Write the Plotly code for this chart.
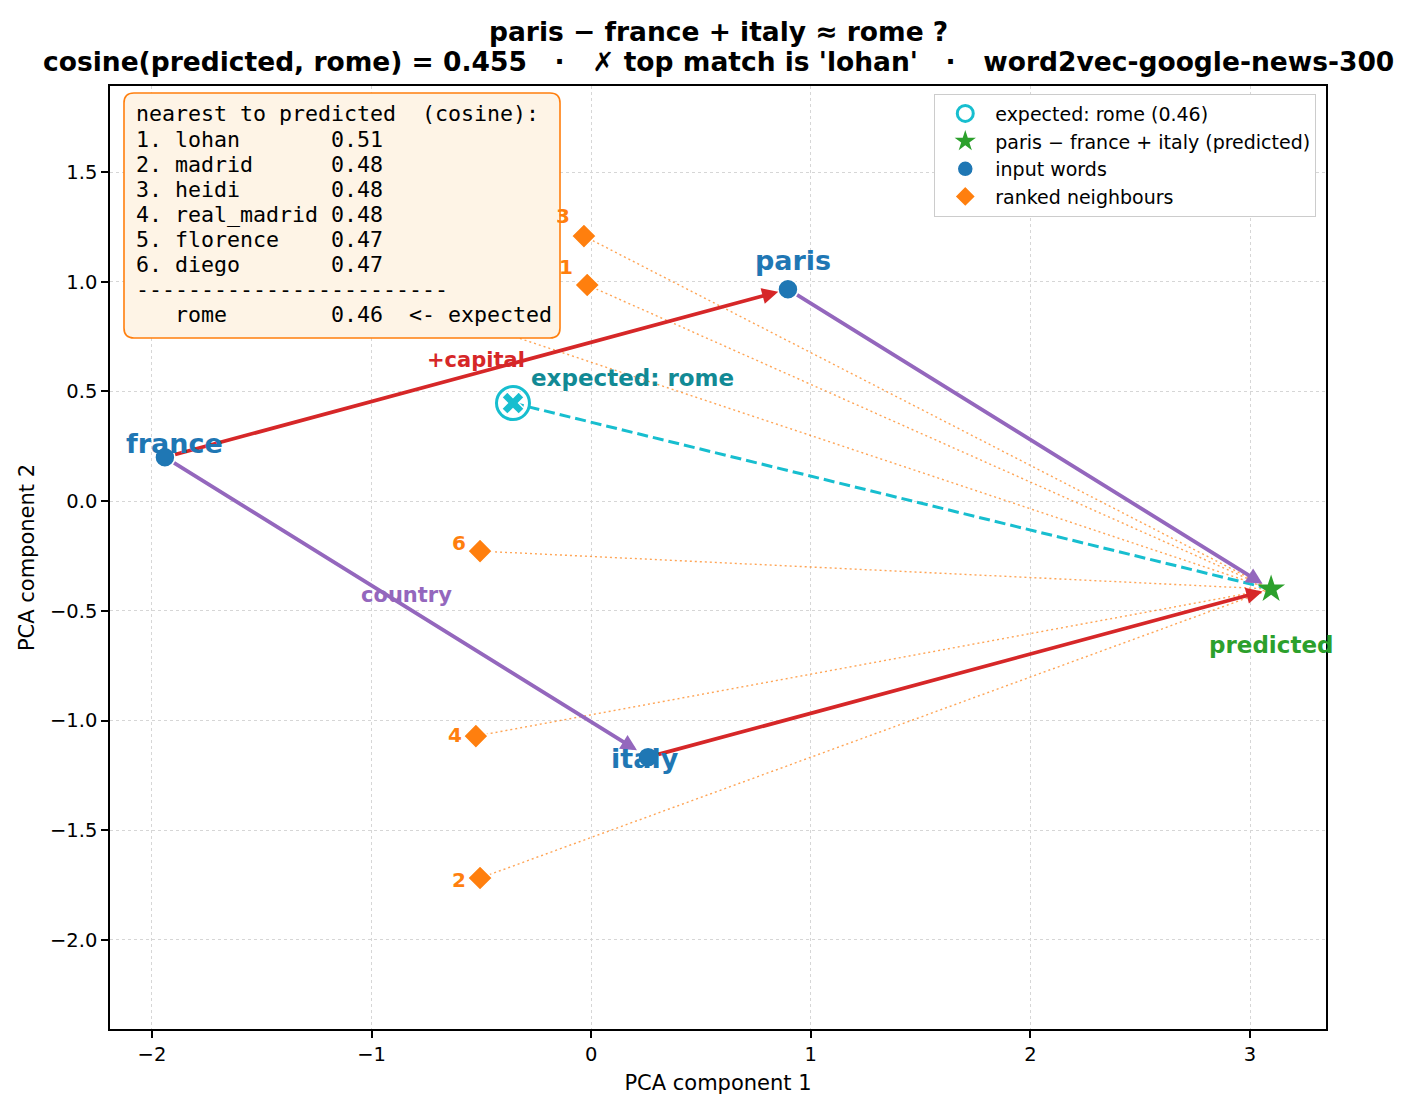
import plotly.graph_objects as go

# ---------------- data ----------------
input_words = ["paris", "france", "italy"]
input_x = [0.896, -1.941, 0.259]
input_y = [0.966, 0.200, -1.167]

pred_label = "paris − france + italy (predicted)"
pred_x = [3.096]
pred_y = [-0.401]

expected_word = "rome"
expected_x = [-0.356]
expected_y = [0.447]
expected_cos = 0.455

neigh_words = ["lohan", "madrid", "heidi", "real_madrid", "florence", "diego"]
neigh_scores = [0.51, 0.48, 0.48, 0.48, 0.47, 0.47]
neigh_x = [-0.018, -0.506, -0.033, -0.525, -0.80, -0.506]
neigh_y = [0.985, -1.718, 1.208, -1.071, 0.90, -0.228]

x_ticks = [-2, -1, 0, 1, 2, 3]
y_ticks = [-2.0, -1.5, -1.0, -0.5, 0.0, 0.5, 1.0, 1.5]

# ---------------- style ----------------
BLUE = "#1f77b4"
ORANGE = "#ff7f0e"
GREEN = "#2ca02c"
RED = "#d62728"
PURPLE = "#9467bd"
CYAN = "#17becf"
TEAL = "#128a95"
BOXFILL = "#fef4e6"
FONT = "DejaVu Sans"
MONO = "DejaVu Sans Mono"

W, H = 1415, 1110
ML, MR, MT, MB = 110, 89, 86, 81
PW, PH = W - ML - MR, H - MT - MB


def px2paper(px, py):
    return (px - ML) / PW, 1 - (py - MT) / PH


def fmt(v, d=0):
    s = f"{abs(v):.{d}f}"
    return ("−" + s) if v < 0 else s


fig = go.Figure()

# dotted lines neighbours -> predicted
for nx, ny in zip(neigh_x, neigh_y):
    fig.add_trace(go.Scatter(x=[nx, pred_x[0]], y=[ny, pred_y[0]], mode="lines",
                             line=dict(color=ORANGE, width=1.4, dash="2px,3px"), opacity=0.7,
                             showlegend=False, hoverinfo="skip"))

# dashed expected -> predicted
fig.add_trace(go.Scatter(x=[expected_x[0], pred_x[0]], y=[expected_y[0], pred_y[0]], mode="lines",
                         line=dict(color=CYAN, width=3, dash="11px,5px"),
                         showlegend=False, hoverinfo="skip"))

# expected ring
fig.add_trace(go.Scatter(x=expected_x, y=expected_y, mode="markers",
                         marker=dict(symbol="circle-open", size=33, color=CYAN, line=dict(width=3, color=CYAN)),
                         name=f"expected: {expected_word} ({expected_cos:.2f})", legendrank=1))
fig.add_trace(go.Scatter(x=expected_x, y=expected_y, mode="markers",
                         marker=dict(symbol="x", size=20, color=CYAN, line=dict(width=1.5, color="white")),
                         showlegend=False, hoverinfo="skip"))

# predicted star
fig.add_trace(go.Scatter(x=pred_x, y=pred_y, mode="markers",
                         marker=dict(symbol="star", size=21, color=GREEN, line=dict(width=0)),
                         name=pred_label, legendrank=2))

# input words
fig.add_trace(go.Scatter(x=input_x, y=input_y, mode="markers",
                         marker=dict(symbol="circle", size=20, color=BLUE, line=dict(width=1.5, color="white")),
                         name="input words", legendrank=3))

# neighbours
fig.add_trace(go.Scatter(x=neigh_x, y=neigh_y, mode="markers",
                         marker=dict(symbol="diamond", size=19, color=ORANGE, line=dict(width=1.5, color="white")),
                         name="ranked neighbours", legendrank=4))

ann = []


def arrow(i0x, i0y, i1x, i1y, color, standoff):
    ann.append(dict(x=i1x, y=i1y, ax=i0x, ay=i0y, xref="x", yref="y", axref="x", ayref="y",
                    showarrow=True, arrowhead=2, arrowsize=0.85, arrowwidth=3.8, arrowcolor=color,
                    standoff=standoff, startstandoff=9, text=""))


arrow(input_x[1], input_y[1], input_x[0], input_y[0], RED, 10)        # france -> paris
arrow(input_x[2], input_y[2], pred_x[0], pred_y[0], RED, 9)           # italy -> predicted
arrow(input_x[1], input_y[1], input_x[2], input_y[2], PURPLE, 13)     # france -> italy
arrow(input_x[0], input_y[0], pred_x[0], pred_y[0], PURPLE, 10)       # paris -> predicted

# arrow labels at midpoints
ann.append(dict(x=(input_x[1] + input_x[0]) / 2, y=(input_y[1] + input_y[0]) / 2, xref="x", yref="y",
                text="<b>+capital</b>", showarrow=False, yshift=13,
                font=dict(family=FONT, size=21, color=RED)))
ann.append(dict(x=(input_x[1] + input_x[2]) / 2, y=(input_y[1] + input_y[2]) / 2, xref="x", yref="y",
                text="<b>country</b>", showarrow=False, yshift=12,
                font=dict(family=FONT, size=21, color=PURPLE)))

# word labels
word_shift = [(5, 29), (10, 14), (-3, -1)]
for w, x, y, (dx, dy) in zip(input_words, input_x, input_y, word_shift):
    ann.append(dict(x=x, y=y, xref="x", yref="y", text=f"<b>{w}</b>", showarrow=False,
                    xshift=dx, yshift=dy, font=dict(family=FONT, size=27, color=BLUE)))

ann.append(dict(x=expected_x[0], y=expected_y[0], xref="x", yref="y", text=f"<b>expected: {expected_word}</b>",
                showarrow=False, xanchor="left", xshift=16, yshift=25,
                font=dict(family=FONT, size=23, color=TEAL)))
ann.append(dict(x=pred_x[0], y=pred_y[0], xref="x", yref="y", text="<b>predicted</b>",
                showarrow=False, yshift=-56, font=dict(family=FONT, size=23, color=GREEN)))

# rank labels
rank_yshift = [18, -2, 20, 1, 10, 8]
for i, (x, y) in enumerate(zip(neigh_x, neigh_y)):
    ann.append(dict(x=x, y=y, xref="x", yref="y", text=f"<b>{i + 1}</b>", showarrow=False,
                    xanchor="right", xshift=-12, yshift=rank_yshift[i],
                    font=dict(family=FONT, size=20, color=ORANGE)))

# nearest text box (rounded rectangle + opaque cover + one annotation per line)
bx0, by0, bx1, by1, rad = 124, 93, 560, 338, 10


def P(px, py):
    x, y = px2paper(px, py)
    return f"{x:.5f},{y:.5f}"


path = (f"M {P(bx0 + rad, by0)} L {P(bx1 - rad, by0)} Q {P(bx1, by0)} {P(bx1, by0 + rad)} "
        f"L {P(bx1, by1 - rad)} Q {P(bx1, by1)} {P(bx1 - rad, by1)} "
        f"L {P(bx0 + rad, by1)} Q {P(bx0, by1)} {P(bx0, by1 - rad)} "
        f"L {P(bx0, by0 + rad)} Q {P(bx0, by0)} {P(bx0 + rad, by0)} Z")
shapes = [dict(type="path", xref="paper", yref="paper", path=path,
               fillcolor=BOXFILL, line=dict(color=ORANGE, width=1.6), layer="above")]

cx, cy = px2paper((bx0 + bx1) / 2, (by0 + by1) / 2)
ann.append(dict(x=cx, y=cy, xref="paper", yref="paper", xanchor="center", yanchor="middle",
                text=" ", showarrow=False, width=bx1 - bx0 - 6, height=by1 - by0 - 6,
                bgcolor=BOXFILL, borderpad=0, borderwidth=0))

NB = "\u00a0"
lines = ["nearest to predicted  (cosine):"]
for i, (w, s) in enumerate(zip(neigh_words, neigh_scores)):
    lines.append(f"{i + 1}. {w:<11} {s:.2f}")
lines.append("-" * 24)
lines.append(f"   {expected_word:<11} {expected_cos:.2f}  <- expected")
for i, l in enumerate(lines):
    lx, ly = px2paper(134, 114 + 25.1 * i)
    ann.append(dict(x=lx, y=ly, xref="paper", yref="paper", xanchor="left", yanchor="middle",
                    text=l.replace(" ", NB).replace("<", "&lt;"), showarrow=False,
                    font=dict(family=MONO, size=21.6, color="black")))

# titles
t1x, t1y = px2paper(0, 31)
t2x, t2y = px2paper(0, 62)
ann.append(dict(x=0.5, y=t1y, xref="paper", yref="paper", text="<b>paris − france + italy ≈ rome ?</b>",
                showarrow=False, yanchor="middle", font=dict(family=FONT, size=26.5, color="black")))
ann.append(dict(x=0.5, y=t2y, xref="paper", yref="paper",
                text=f"<b>cosine(predicted, {expected_word}) = {expected_cos:.3f}   ·   ✗ top match is '{neigh_words[0]}'   ·   word2vec-google-news-300</b>".replace(" ", NB),
                showarrow=False, yanchor="middle", font=dict(family=FONT, size=26.5, color="black")))

axis_common = dict(showline=True, linecolor="black", linewidth=1.5, mirror=True,
                   ticks="outside", ticklen=7, tickwidth=1.5, tickcolor="black",
                   showgrid=True, gridcolor="#d6d6d6", griddash="dot", gridwidth=1,
                   zeroline=False, tickfont=dict(family=FONT, size=19.5, color="black"))

fig.update_layout(
    width=W, height=H,
    margin=dict(l=ML, r=MR, t=MT, b=MB),
    paper_bgcolor="white", plot_bgcolor="white",
    font=dict(family=FONT, color="black"),
    showlegend=True,
    legend=dict(x=0.992, y=0.992, xanchor="right", yanchor="top",
                bgcolor="white", bordercolor="#cccccc", borderwidth=1, itemwidth=50,
                font=dict(family=FONT, size=19, color="black")),
    annotations=ann,
    shapes=shapes,
    xaxis=dict(range=[-2.191, 3.346], tickvals=x_ticks, ticktext=[fmt(v) for v in x_ticks],
               title=dict(text="PCA component 1", font=dict(family=FONT, size=21), standoff=10), **axis_common),
    yaxis=dict(range=[-2.406, 1.892], tickvals=y_ticks, ticktext=[fmt(v, 1) for v in y_ticks],
               title=dict(text="PCA component 2", font=dict(family=FONT, size=21), standoff=10), **axis_common),
)

fig.write_html("out.html")
